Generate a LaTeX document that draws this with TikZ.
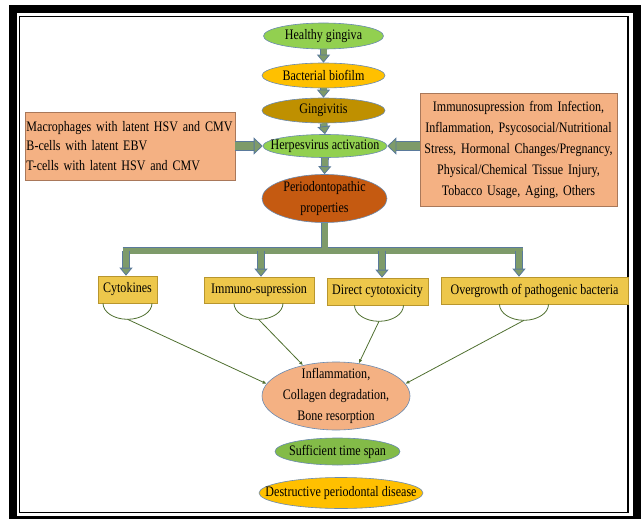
\documentclass[tikz,border=0pt]{standalone}
\usepackage{fontspec}
\setmainfont{Liberation Serif}[FakeStretch=0.83]
\usetikzlibrary{shapes.geometric,arrows.meta}

\newcommand\diagfont[1]{\fontsize{14.5}{#1}\selectfont}

\definecolor{leafgreen}{HTML}{92D050}
\definecolor{biofilmgold}{HTML}{FFC000}
\definecolor{darkgold}{HTML}{BF9000}
\definecolor{rust}{HTML}{C55A11}
\definecolor{peach}{HTML}{F4B183}
\definecolor{peachedge}{HTML}{A9785A}
\definecolor{boxgold}{HTML}{EDC74B}
\definecolor{boxedge}{HTML}{B8962E}
\definecolor{shaftgreen}{HTML}{7E9B6A}
\definecolor{shaftblue}{HTML}{5A7A9C}
\definecolor{thingreen}{HTML}{4F6F2F}
\definecolor{rimblue}{HTML}{6A8AB0}

\tikzset{
  stage/.style={ellipse, draw=rimblue, line width=0.6pt, inner sep=0pt},
  stagelabel/.style={align=center, inner sep=0pt, font=\diagfont{21}},
  factorbox/.style={rectangle, draw=peachedge, fill=peach, line width=0.6pt, inner ysep=0pt,
    font=\diagfont{19.5}},
  effectbox/.style={rectangle, draw=boxedge, fill=boxgold, line width=0.6pt, inner sep=0pt,
    font=\diagfont{16}},
  blockline/.style={draw=shaftgreen, line width=6pt, preaction={draw=shaftblue, line width=7.6pt}},
  blockarrow/.style={draw=shaftgreen, line width=6pt,
    -{Triangle[width=13pt,length=8pt,line width=0.8pt,fill=shaftgreen,color=shaftblue]},
    preaction={draw=shaftblue, line width=7.6pt, -, shorten >=7pt}},
  widearrow/.style={draw=shaftgreen, line width=8pt,
    -{Triangle[width=17pt,length=9pt,line width=0.8pt,fill=shaftgreen,color=shaftblue]},
    preaction={draw=shaftblue, line width=9.6pt, -, shorten >=8pt}},
  cup/.style={draw=thingreen, line width=0.8pt},
  thinarrow/.style={draw=thingreen, line width=0.8pt, -{Latex[length=4pt,width=3.5pt]}},
}

\begin{document}
\begin{tikzpicture}[x=1pt,y=1pt]
    \def\cupr{24.5}
    \useasboundingbox (0,0) rectangle (643,-519);

    % frame
    \draw[line width=8pt] (13,-9) rectangle (636.5,-520);
    \draw[line width=1.4pt] (19.5,-16.5) rectangle (628,-512.5);

    % main course
    \node[stage, fill=leafgreen, minimum width=120pt, minimum height=26pt,
      label={[stagelabel]center:Healthy gingiva}] (healthy) at (323.5,-36) {};
    \node[stage, fill=biofilmgold, minimum width=123pt, minimum height=25pt,
      label={[stagelabel]center:Bacterial biofilm}] (biofilm) at (323.5,-75.5) {};
    \node[stage, fill=darkgold, minimum width=123pt, minimum height=25pt,
      label={[stagelabel]center:Gingivitis}] (gingivitis) at (323.5,-110.5) {};
    \node[stage, fill=leafgreen, minimum width=124pt, minimum height=23pt,
      label={[stagelabel]center:Herpesvirus activation}] (herpes) at (325,-146) {};
    \node[stage, fill=rust, minimum width=125pt, minimum height=48pt,
      label={[stagelabel]center:{Periodontopathic\\properties}}] (perio) at (324.5,-198.5) {};

    % side boxes
    \node[factorbox, text width=207pt, inner xsep=1.5pt, align=left, minimum height=68pt] (reservoirs) at (130,-146)
      {Macrophages with latent HSV and CMV\\B-cells with latent EBV\\T-cells with latent HSV and CMV};
    \node[factorbox, text width=196pt, inner xsep=0.5pt, align=center, minimum height=113pt,
      font=\diagfont{21}] (triggers) at (518.5,-149.5)
      {Immunosupression from Infection,\\Inflammation, Psycosocial/Nutritional\\Stress, Hormonal Changes/Pregnancy,\\Physical/Chemical Tissue Injury,\\Tobacco Usage, Aging, Others};

    % effects
    \node[effectbox, minimum width=59pt, minimum height=27pt] (cyto) at (127.5,-289.5) {Cytokines};
    \node[effectbox, minimum width=110pt, minimum height=26pt] (immuno) at (259,-290) {Immuno-supression};
    \node[effectbox, minimum width=101pt, minimum height=27pt] (direct) at (377.5,-291.5) {Direct cytotoxicity};
    \node[effectbox, minimum width=187pt, minimum height=27pt] (over) at (534.5,-290.5) {Overgrowth of pathogenic bacteria};

    % outcome
    \node[stage, fill=peach, minimum width=148pt, minimum height=68pt,
      label={[stagelabel]center:{Inflammation,\\Collagen degradation,\\Bone resorption}}] (damage) at (336,-396) {};
    \node[stage, fill=leafgreen!90!black, minimum width=125pt, minimum height=27pt,
      label={[stagelabel]center:Sufficient time span}] (timespan) at (337.5,-451.5) {};
    \node[stage, fill=biofilmgold, minimum width=164pt, minimum height=31pt,
      label={[stagelabel]center:Destructive periodontal disease}] (disease) at (341,-493) {};

    % block arrows
    \draw[blockarrow] (healthy.south) -- (biofilm.north);
    \draw[blockarrow] (biofilm.south) -- (gingivitis.north);
    \draw[blockarrow] (gingivitis.south) -- (herpes.north);
    \draw[blockarrow] (herpes.south) -- (perio.north);
    \draw[widearrow] (reservoirs.east |- herpes.west) -- (herpes.west);
    \draw[widearrow] (triggers.west |- herpes.east) -- (herpes.east);

    \coordinate (barL) at (122.5,-250.5);
    \coordinate (barR) at (522.5,-250.5);
    \draw[blockline] (perio.south) -- (perio.south |- barL) (barL) -- (barR);
    \foreach \n/\x in {cyto/126, immuno/261, direct/382, over/519} {
      \coordinate (\n-drop) at (\x,-250.5);
      \draw[blockarrow] (\n-drop) -- (\x,0 |- \n.north);
    }

    % cups and thin arrows
    \foreach \n/\x in {cyto/127.5, immuno/258.5, direct/379, over/524} {
      \draw[cup] (\x-\cupr,0 |- \n.south) arc[start angle=180, end angle=270, x radius=\cupr, y radius=16]
        coordinate (\n-cup) arc[start angle=270, end angle=360, x radius=\cupr, y radius=16];
    }
    \draw[thinarrow] (cyto-cup) -- (damage.170);
    \draw[thinarrow] (immuno-cup) -- (damage.137);
    \draw[thinarrow] (direct-cup) -- (damage.55);
    \draw[thinarrow] (over-cup) -- (damage.10);

\end{tikzpicture}
\end{document}
